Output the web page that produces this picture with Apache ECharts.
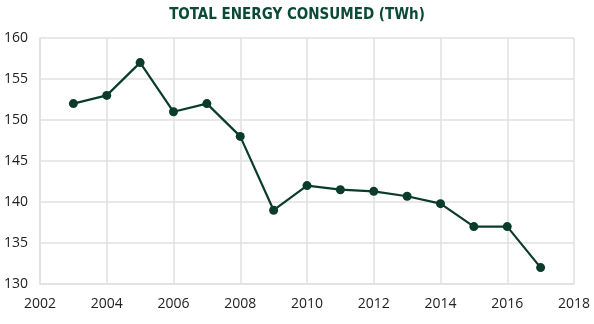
<!DOCTYPE html>
<html>
<head>
<meta charset="utf-8">
<script src="https://cdn.jsdelivr.net/npm/echarts@6/dist/echarts.min.js"></script>
<style>
  html, body { margin: 0; padding: 0; background: #fff; }
  #chart { width: 594px; height: 324px; }
</style>
</head>
<body>
<div id="chart"></div>
<script>
// Annual energy consumption, TWh
const years = [2003, 2004, 2005, 2006, 2007, 2008, 2009, 2010, 2011, 2012, 2013, 2014, 2015, 2016, 2017];
const consumption = [152, 153, 157, 151, 152, 148, 139, 142, 141.5, 141.3, 140.7, 139.8, 137, 137, 132];
const chartTitle = 'TOTAL ENERGY CONSUMED (TWh)';

const green = '#0b3b2b';
const gridGray = '#e0e0e0';

const chart = echarts.init(document.getElementById('chart'));
chart.setOption({
  animation: false,
  title: {
    text: chartTitle,
    left: 'center',
    top: 3,
    textStyle: {
      fontFamily: 'DejaVu Sans Condensed, DejaVu Sans',
      fontWeight: 'bold',
      fontSize: 15,
      color: '#0b4a36'
    }
  },
  grid: { left: 40, right: 20, top: 38, bottom: 40 },
  xAxis: {
    type: 'value',
    min: 2002,
    max: 2018,
    interval: 2,
    axisLine: { show: true, lineStyle: { color: gridGray, width: 1.5 } },
    axisTick: { show: false },
    splitLine: { show: true, lineStyle: { color: gridGray, width: 1.5 } },
    axisLabel: {
      color: '#222',
      fontFamily: 'Open Sans',
      fontSize: 14,
      margin: 13,
      formatter: v => String(v)
    }
  },
  yAxis: {
    type: 'value',
    min: 130,
    max: 160,
    interval: 5,
    axisLine: { show: true, lineStyle: { color: gridGray, width: 1.5 } },
    axisTick: { show: false },
    splitLine: { show: true, lineStyle: { color: gridGray, width: 1.5 } },
    axisLabel: {
      color: '#222',
      fontFamily: 'Open Sans',
      fontSize: 14,
      margin: 12
    }
  },
  series: [{
    type: 'line',
    data: years.map((y, i) => [y, consumption[i]]),
    symbol: 'circle',
    symbolSize: 9,
    lineStyle: { color: green, width: 2.2 },
    itemStyle: { color: green }
  }]
});
</script>
</body>
</html>
